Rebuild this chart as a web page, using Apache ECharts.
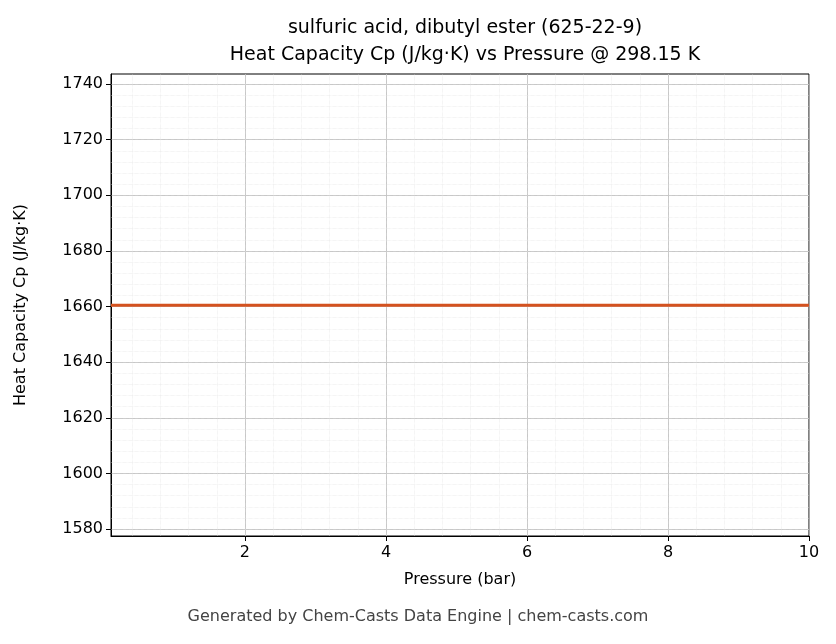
<!DOCTYPE html>
<html><head><meta charset="utf-8">
<script src="https://cdn.jsdelivr.net/npm/echarts@6/dist/echarts.min.js"></script>
<style>html,body{margin:0;background:#fff}#c{width:836px;height:644px}</style>
</head><body><div id="c"></div>
<script>
// data
const pressure = [0.1, 2, 4, 6, 8, 10];
const heatCp = [1660.5, 1660.5, 1660.5, 1660.5, 1660.5, 1660.5];
const xTicks = [2, 4, 6, 8, 10];
const yTicks = [1580, 1600, 1620, 1640, 1660, 1680, 1700, 1720, 1740];

const xMin = 0.1, xMax = 10, yMin = 1577.5, yMax = 1743.6;
// minor grid positions
const xMinor = [], yMinor = [];
for (let v = 0.4; v < xMax; v += 0.4) if (v > xMin) xMinor.push(+v.toFixed(2));
for (let v = 1580; v < yMax; v += 4) yMinor.push(v);

const font = 'DejaVu Sans';
const chart = echarts.init(document.getElementById('c'));
chart.setOption({
  animation: false,
  textStyle: { fontFamily: font },
  title: {
    text: 'sulfuric acid, dibutyl ester (625-22-9)\nHeat Capacity Cp (J/kg·K) vs Pressure @ 298.15 K',
    left: 460, top: 10, textAlign: 'center',
    textStyle: { fontSize: 19, fontWeight: 'normal', color: '#000', lineHeight: 27, fontFamily: font }
  },
  graphic: [{
    type: 'text', left: 'center', top: 609,
    style: { text: 'Generated by Chem-Casts Data Engine | chem-casts.com', fill: '#444', font: '16px DejaVu Sans' }
  }],
  grid: { left: 111, right: 27, top: 74, bottom: 108, show: true, borderColor: '#000', borderWidth: 1 },
  xAxis: {
    type: 'value', min: xMin, max: xMax,
    name: 'Pressure (bar)', nameLocation: 'middle', nameGap: 36,
    nameTextStyle: { fontSize: 16, color: '#000' },
    axisLine: { lineStyle: { color: '#000' } },
    axisTick: { customValues: xTicks, length: 5, lineStyle: { color: '#000' } },
    axisLabel: { customValues: xTicks, fontSize: 16, color: '#000', margin: 9 },
    splitLine: { show: true, lineStyle: { color: '#b0b0b0', width: 0.8 } }
  },
  yAxis: {
    type: 'value', min: yMin, max: yMax,
    name: 'Heat Capacity Cp (J/kg·K)', nameLocation: 'middle', nameGap: 82,
    nameTextStyle: { fontSize: 16, color: '#000' },
    axisLine: { show: true, lineStyle: { color: '#000' } },
    axisTick: { show: true, customValues: yTicks, length: 5, lineStyle: { color: '#000' } },
    axisLabel: { customValues: yTicks, fontSize: 16, color: '#000', margin: 8, formatter: v => String(v) },
    splitLine: { show: true, lineStyle: { color: '#b0b0b0', width: 0.8 } }
  },
  series: [{
    type: 'line', data: pressure.map((p, i) => [p, heatCp[i]]),
    showSymbol: false, lineStyle: { color: '#d4521f', width: 3 }, z: 5,
    markLine: {
      silent: true, symbol: 'none', label: { show: false }, animation: false,
      lineStyle: { color: '#e3e3e3', type: 'dotted', width: 0.6 },
      data: xMinor.map(v => ({ xAxis: v })).concat(yMinor.map(v => ({ yAxis: v })))
    }
  }]
});
</script></body></html>
